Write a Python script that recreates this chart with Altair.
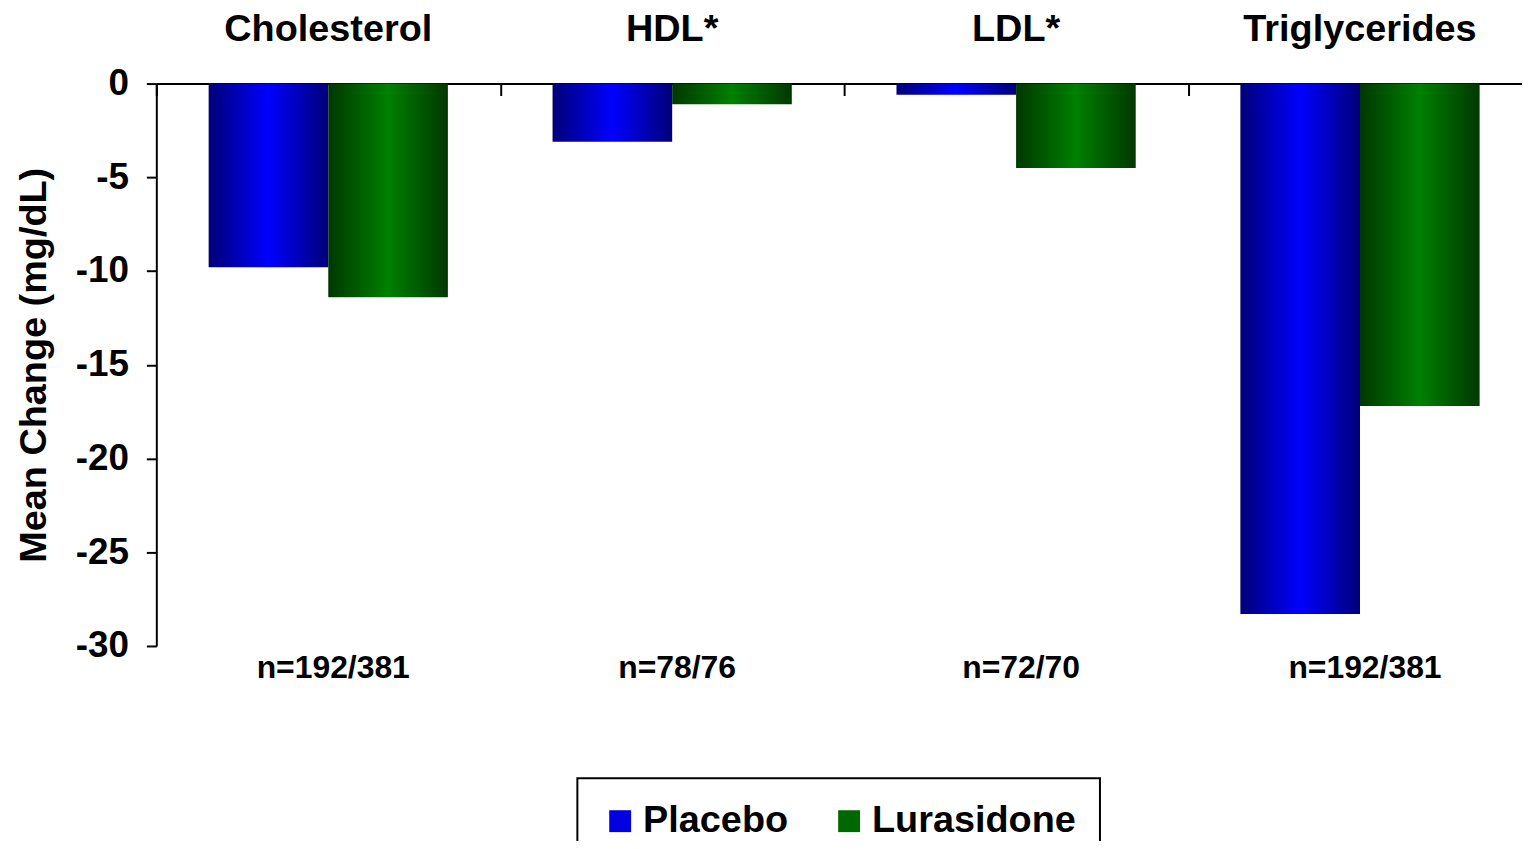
import altair as alt
import pandas as pd

categories = ["Cholesterol", "HDL*", "LDL*", "Triglycerides"]
placebo = [-9.8, -3.1, -0.6, -28.3]
lurasidone = [-11.4, -1.1, -4.5, -17.2]
n_labels = ["n=192/381", "n=78/76", "n=72/70", "n=192/381"]
series = ["Placebo", "Lurasidone"]

FONT = "Liberation Sans"
W, H = 1382, 565

rows = []
for c, p, l in zip(categories, placebo, lurasidone):
    rows.append({"category": c, "series": "Placebo", "value": p})
    rows.append({"category": c, "series": "Lurasidone", "value": l})
df = pd.DataFrame(rows)
lab = pd.DataFrame({"category": categories, "n": n_labels})

x_enc = alt.X("category:N", sort=categories,
              scale=alt.Scale(paddingInner=0, paddingOuter=0),
              axis=alt.Axis(orient="bottom", offset=-H, labels=False, title=None,
                            tickBand="extent", ticks=True, tickSize=12, tickWidth=2,
                            tickColor="black", domainColor="black", domainWidth=2,
                            grid=False))
xo = alt.XOffset("series:N", sort=series,
                 scale=alt.Scale(domain=series, paddingInner=0, paddingOuter=0.4375))
y_axis = alt.Axis(values=[0, -5, -10, -15, -20, -25, -30], labelExpr="datum.value",
                  title="Mean Change (mg/dL)", titleFont=FONT,
                  titleFontSize=38, titleFontWeight="bold", titleColor="black",
                  titlePadding=22,
                  labelFont=FONT, labelFontSize=37, labelFontWeight="bold",
                  labelColor="black", labelPadding=18,
                  tickSize=10, tickWidth=2, tickColor="black",
                  domainColor="black", domainWidth=2, grid=False)
y_scale = alt.Scale(domain=[-30, 0], nice=False, zero=False)
y_enc = alt.Y("value:Q", scale=y_scale, axis=y_axis)


def grad(dark, bright):
    return alt.LinearGradient(
        gradient="linear", x1=0, x2=1, y1=0, y2=0,
        stops=[alt.GradientStop(color=dark, offset=0),
               alt.GradientStop(color=bright, offset=0.5),
               alt.GradientStop(color=dark, offset=1)])


base = alt.Chart(df)
bars_p = base.transform_filter(alt.datum.series == "Placebo").mark_bar(
    color=grad("#000078", "#0000ff")).encode(x=x_enc, xOffset=xo, y=y_enc)
bars_l = base.transform_filter(alt.datum.series == "Lurasidone").mark_bar(
    color=grad("#003800", "#008000")).encode(x=x_enc, xOffset=xo, y=y_enc)

legend_layer = base.mark_square(opacity=0).encode(
    x=x_enc, y=y_enc,
    color=alt.Color("series:N", sort=series,
                    scale=alt.Scale(domain=series, range=["#0000e0", "#006800"]),
                    legend=alt.Legend(orient="none", legendX=423, legendY=698,
                                      direction="horizontal", title=None,
                                      symbolType="square", symbolSize=484,
                                      symbolOpacity=1, symbolStrokeWidth=0,
                                      labelFont=FONT, labelFontSize=38,
                                      labelFontWeight="bold", labelColor="black",
                                      labelLimit=400,
                                      strokeColor="black", fillColor="white",
                                      padding=24, columnPadding=42, labelOffset=4)))

cat_text = alt.Chart(lab).mark_text(font=FONT, fontSize=38, fontWeight="bold",
                                     color="black", baseline="middle", dy=-54).encode(
    x=x_enc, y=alt.datum(0, scale=y_scale), text="category:N")
n_text = alt.Chart(lab).mark_text(font=FONT, fontSize=32, fontWeight="bold",
                                   color="black", baseline="middle", dy=22, dx=5).encode(
    x=x_enc, y=alt.datum(-30, scale=y_scale), text="n:N")

chart = alt.layer(bars_p, bars_l, legend_layer, cat_text, n_text).properties(
    width=W, height=H,
    autosize=alt.AutoSizeParams(type="none"),
    padding={"left": 149, "top": 74, "right": -10, "bottom": 194},
    background="white",
).configure_view(stroke=None).configure_legend(strokeWidth=2)

chart.save("out.html", embed_options={"renderer": "svg", "actions": False})
